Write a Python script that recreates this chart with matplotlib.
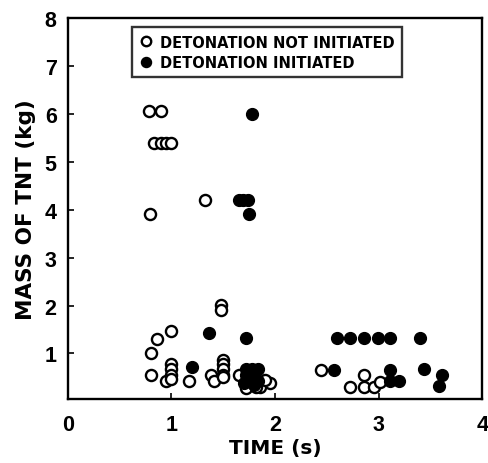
import numpy as np
import matplotlib
matplotlib.use('Agg')
import matplotlib.pyplot as plt

plt.rcParams['font.family'] = ['Liberation Sans', 'DejaVu Sans']
plt.rcParams['font.weight'] = 'bold'

# detonation not initiated (open circles)
open_t = [0.78, 0.90, 0.83, 0.90, 0.95, 1.00, 1.32, 0.79,
          1.48, 1.48, 0.86, 1.00, 0.80, 0.80, 0.95,
          1.00, 1.00, 1.00, 1.00, 1.17, 1.38, 1.41,
          1.50, 1.50, 1.50, 1.50, 1.50, 1.65,
          1.72, 1.86, 1.95, 1.90, 1.82,
          2.44, 2.72, 2.86, 2.86, 2.96, 3.01]
open_m = [6.05, 6.05, 5.4, 5.4, 5.4, 5.4, 4.2, 3.9,
          2.02, 1.9, 1.31, 1.46, 1.0, 0.55, 0.42,
          0.77, 0.67, 0.56, 0.46, 0.42, 0.56, 0.42,
          0.87, 0.77, 0.67, 0.56, 0.5, 0.56,
          0.28, 0.3, 0.38, 0.45, 0.3,
          0.65, 0.31, 0.56, 0.29, 0.31, 0.4]

# detonation initiated (filled circles)
fill_t = [1.20, 1.36, 1.72, 1.65, 1.69, 1.74, 1.75, 1.78,
          1.72, 1.78, 1.84, 1.72, 1.80, 1.76, 1.84, 1.80, 1.70,
          2.60, 2.72, 2.86, 2.99, 3.11, 3.40,
          2.57, 3.11, 3.11, 3.20, 3.44, 3.61, 3.58]
fill_m = [0.71, 1.42, 1.33, 4.2, 4.2, 4.2, 3.9, 6.0,
          0.68, 0.68, 0.68, 0.55, 0.5, 0.42, 0.42, 0.35, 0.38,
          1.33, 1.33, 1.33, 1.33, 1.33, 1.33,
          0.65, 0.65, 0.42, 0.42, 0.67, 0.56, 0.33]

fig = plt.figure(figsize=(4.88, 4.64), dpi=100)
ax = fig.add_axes([0.139, 0.138, 0.849, 0.821])

ax.plot(open_t, open_m, 'o', ls='none', ms=8, mfc='white', mec='black', mew=1.7,
        label='DETONATION NOT INITIATED')
ax.plot(fill_t, fill_m, 'o', ls='none', ms=8.5, mfc='black', mec='black', mew=1.0,
        label='DETONATION INITIATED')

ax.set_xlim(0, 4)
ax.set_ylim(0.05, 8)
ax.set_xticks([0, 1, 2, 3, 4])
ax.set_yticks([1, 2, 3, 4, 5, 6, 7, 8])
ax.tick_params(direction='in', length=4, width=1.2, labelsize=15.5, pad=8)
ax.tick_params(axis='x', pad=11)
for lab in ax.get_xticklabels() + ax.get_yticklabels():
    lab.set_fontweight('bold')
for sp in ax.spines.values():
    sp.set_linewidth(1.7)

wide = ['DejaVu Sans']
ax.set_xlabel('TIME (s)', fontsize=14.5, fontweight='bold', family=wide, labelpad=2)
ax.set_ylabel('MASS OF TNT (kg)', fontsize=15.5, fontweight='bold', family=wide, labelpad=6)

leg = ax.legend(loc='upper center', bbox_to_anchor=(0.48, 0.995),
                prop={'family': wide, 'weight': 'bold', 'size': 10.5},
                frameon=True, fancybox=False, handletextpad=0.4, markerscale=0.85,
                borderpad=0.5, handlelength=1.0, labelspacing=0.35)
leg.get_frame().set_edgecolor('black')
leg.get_frame().set_linewidth(1.7)

fig.savefig('out.png', dpi=100)
